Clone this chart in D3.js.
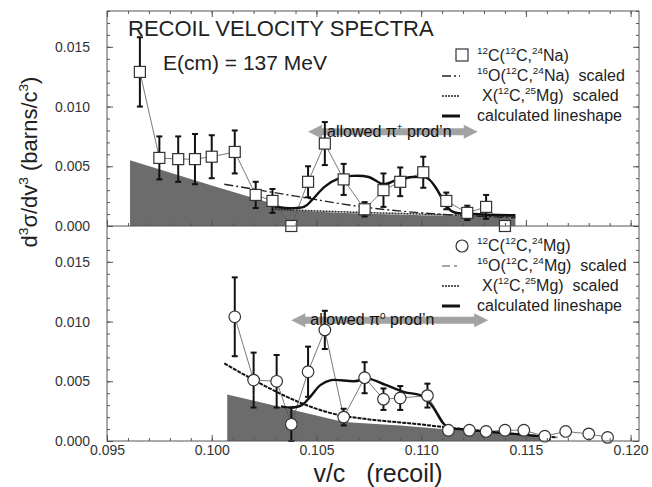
<!DOCTYPE html>
<html>
<head>
<meta charset="utf-8">
<script src="https://cdn.jsdelivr.net/npm/d3@7"></script>
<style>
  body { margin: 0; background: #fff; }
  svg { display: block; font-family: "Liberation Sans", Arial, sans-serif; }
</style>
</head>
<body>
<svg></svg>
<script>
// top panel: 12C(12C,24Na) data points
let naV = [0.09657, 0.0975, 0.0984, 0.0992, 0.1000, 0.1011, 0.1021, 0.1029, 0.1038, 0.1046,
           0.1054, 0.1063, 0.1073, 0.1082, 0.1090, 0.1101, 0.1112, 0.1122, 0.1131, 0.1140];
let naY = [0.0129, 0.0057, 0.0056, 0.0056, 0.0058, 0.0062, 0.0026, 0.0021, 0.0000, 0.0037,
           0.0069, 0.0039, 0.0014, 0.0030, 0.0037, 0.0045, 0.0021, 0.0011, 0.0016, 0.0000];
let naErr = [0.0029, 0.0018, 0.0019, 0.0021, 0.0018, 0.0018, 0.0011, 0.0010, 0, 0.0013,
             0.0018, 0.0013, 0.0006, 0.0014, 0.0012, 0.0013, 0.0007, 0.0006, 0.0010, 0];

// top panel curves
let grayNaV = [0.0961, 0.1000, 0.1040, 0.1060, 0.1100, 0.1145];
let grayNaY = [0.0055, 0.0034, 0.0013, 0.0011, 0.0009, 0.0008];
let oNaV = [0.1006, 0.1040, 0.1072, 0.1100, 0.1145];
let oNaY = [0.0035, 0.0025, 0.0016, 0.0011, 0.0007];
let xNaV = [0.1030, 0.1060, 0.1100, 0.1145];
let xNaY = [0.0014, 0.0012, 0.0010, 0.0008];
let lsNaV = [0.1030, 0.1044, 0.1048, 0.1054, 0.1061, 0.1067, 0.1075, 0.1082, 0.1089, 0.1096,
             0.1103, 0.1107, 0.1111, 0.1115, 0.1125, 0.1145];
let lsNaY = [0.0016, 0.0016, 0.0022, 0.0033, 0.0040, 0.0042, 0.0041, 0.0035, 0.0039, 0.0041,
             0.0040, 0.0032, 0.0020, 0.0012, 0.0010, 0.0009];

// bottom panel: 12C(12C,24Mg) data points
let mgV = [0.1011, 0.1020, 0.1031, 0.1038, 0.1046, 0.1054, 0.1063, 0.1073, 0.1082, 0.1090,
           0.1103, 0.1113, 0.1123, 0.1131, 0.1140, 0.1149, 0.1159, 0.1169, 0.1180, 0.1189];
let mgY = [0.0104, 0.0051, 0.0050, 0.0014, 0.0058, 0.0093, 0.0020, 0.0053, 0.0035, 0.0036,
           0.0038, 0.0009, 0.0009, 0.0008, 0.0009, 0.0009, 0.0004, 0.0008, 0.0006, 0.0003];
let mgErr = [0.0033, 0.0023, 0.0022, 0.0014, 0.0021, 0.0016, 0.0007, 0.0013, 0.0009, 0.0010,
             0.0010, 0, 0, 0, 0, 0, 0, 0, 0, 0];

// bottom panel curves
let grayMgV = [0.10074, 0.1063, 0.1090, 0.1110, 0.1130, 0.1150, 0.1162];
let grayMgY = [0.0039, 0.0016, 0.0013, 0.0010, 0.0007, 0.0004, 0.0002];
let oMgV = [0.1006, 0.1063, 0.1071, 0.1099, 0.1125, 0.1150, 0.1165];
let oMgY = [0.0065, 0.0021, 0.0019, 0.0014, 0.0009, 0.0005, 0.0003];
let lsMgV = [0.1033, 0.1038, 0.1043, 0.1047, 0.1052, 0.1057, 0.1068, 0.1075, 0.1083, 0.1092,
             0.1100, 0.1105, 0.1110, 0.1113, 0.1118, 0.1130, 0.1150, 0.1162];
let lsMgY = [0.0029, 0.0028, 0.0030, 0.0037, 0.0047, 0.0051, 0.0050, 0.0052, 0.0047, 0.0041,
             0.0038, 0.0030, 0.0016, 0.0011, 0.0010, 0.0008, 0.0005, 0.0003];

// axis ticks
let xMajor = [0.095, 0.100, 0.105, 0.110, 0.115, 0.120];
let xMinor = d3.range(0, 26).map(i => 0.095 + i * 0.001);
let yMajor = [0, 0.005, 0.010, 0.015];
let yMinor = d3.range(0, 19).map(i => i * 0.001);

// allowed pion production arrows [from, to, height]
let arrowNa = [0.1046, 0.1127, 0.0079];
let arrowMg = [0.1038, 0.1132, 0.0101];

let width = 652;
let height = 487;
let padLeft = 107, padRight = 639, padTop = 11, padMid = 226, padBottom = 441;
let font = '"Liberation Sans", Arial, sans-serif';

let svg = d3.select("svg").attr('width', width).attr('height', height);

let xScale = d3.scaleLinear().domain([0.095, 0.1204]).range([padLeft, padRight]);
let yTop = d3.scaleLinear().domain([0, 0.018]).range([padMid, padTop]);
let yBot = d3.scaleLinear().domain([0, 0.018]).range([padBottom, padMid]);

// text with superscripts
let rich = (t, parts, fs) => {
    let up = false;
    parts.forEach(([s, sup]) => {
        let ts = t.append('tspan').text(s);
        if (sup && !up) { ts.attr('dy', -fs * 0.42); up = true; }
        else if (!sup && up) { ts.attr('dy', fs * 0.42); up = false; }
        if (sup) ts.attr('font-size', fs * 0.62);
    });
};

let zip = (a, b) => a.map((v, i) => [v, b[i]]);

let drawPanel = (y, p) => {
    let g = svg.append('g');

    // shaded background
    g.append('path')
        .datum(zip(p.grayV, p.grayY))
        .attr('fill', '#6c6c6c')
        .attr('d', d3.area().x(d => xScale(d[0])).y0(y(0)).y1(d => y(d[1])));

    // arrow
    let [a0, a1, ah] = p.arrow;
    let xa = xScale(a0), xb = xScale(a1), ya = y(ah);
    g.append('path')
        .attr('fill', '#a3a3a3')
        .attr('d', `M${xa},${ya} L${xa + 14},${ya - 7} L${xa + 14},${ya - 3.5} L${xb - 14},${ya - 3.5}
                    L${xb - 14},${ya - 7} L${xb},${ya} L${xb - 14},${ya + 7} L${xb - 14},${ya + 3.5}
                    L${xa + 14},${ya + 3.5} L${xa + 14},${ya + 7} Z`);
    let at = g.append('text')
        .attr('x', xa + 19).attr('y', ya + 5)
        .attr('font-size', 16).attr('fill', '#111')
        .style('white-space', 'pre');
    rich(at, [['allowed \u03c0', 0], [p.pion, 1], [' prod\u2019n', 0]], 16);

    // scaled reference curves
    g.append('path')
        .datum(zip(p.oV, p.oY))
        .attr('fill', 'none').attr('stroke', p.oColor).attr('stroke-width', p.oWidth)
        .attr('stroke-dasharray', p.oDash)
        .attr('d', d3.line().x(d => xScale(d[0])).y(d => y(d[1])).curve(d3.curveMonotoneX));
    if (p.xV) {
        g.append('path')
            .datum(zip(p.xV, p.xY))
            .attr('fill', 'none').attr('stroke', '#222').attr('stroke-width', 1.5)
            .attr('stroke-dasharray', '2,1')
            .attr('d', d3.line().x(d => xScale(d[0])).y(d => y(d[1])).curve(d3.curveMonotoneX));
    }

    // data connecting line
    let pts = zip(p.v, p.y);
    g.append('path')
        .datum(pts)
        .attr('fill', 'none').attr('stroke', '#555').attr('stroke-width', 0.8)
        .attr('d', d3.line().x(d => xScale(d[0])).y(d => y(d[1])));

    // calculated lineshape
    g.append('path')
        .datum(zip(p.lsV, p.lsY))
        .attr('fill', 'none').attr('stroke', '#111').attr('stroke-width', 2.4)
        .attr('d', d3.line().x(d => xScale(d[0])).y(d => y(d[1])).curve(d3.curveCatmullRom));

    // error bars
    let errs = p.v.map((v, i) => ({ v: v, y: p.y[i], e: p.err[i] })).filter(d => d.e > 0);
    let eb = g.selectAll('.eb').data(errs).enter().append('g')
        .attr('stroke', '#111').attr('stroke-width', 2);
    eb.append('line')
        .attr('x1', d => xScale(d.v)).attr('x2', d => xScale(d.v))
        .attr('y1', d => y(Math.max(0, d.y - d.e))).attr('y2', d => y(d.y + d.e));
    eb.append('line')
        .attr('x1', d => xScale(d.v) - 3).attr('x2', d => xScale(d.v) + 3)
        .attr('y1', d => y(d.y + d.e)).attr('y2', d => y(d.y + d.e));
    eb.append('line')
        .attr('x1', d => xScale(d.v) - 3).attr('x2', d => xScale(d.v) + 3)
        .attr('y1', d => y(Math.max(0, d.y - d.e))).attr('y2', d => y(Math.max(0, d.y - d.e)));

    // markers
    if (p.marker === 'square') {
        g.selectAll('.mk').data(pts).enter().append('rect')
            .attr('x', d => xScale(d[0]) - 5.5).attr('y', d => y(d[1]) - 5.5)
            .attr('width', 11).attr('height', 11)
            .attr('fill', '#fff').attr('stroke', '#333').attr('stroke-width', 1.2);
    } else {
        g.selectAll('.mk').data(pts).enter().append('circle')
            .attr('cx', d => xScale(d[0])).attr('cy', d => y(d[1])).attr('r', 5.8)
            .attr('fill', '#fff').attr('stroke', '#333').attr('stroke-width', 1.2);
    }

    // legend
    let lg = svg.append('g').attr('font-size', 16).attr('fill', '#222');
    let ly = p.legendY;
    if (p.marker === 'square') {
        lg.append('rect').attr('x', 456).attr('y', ly - 12).attr('width', 12).attr('height', 12)
            .attr('fill', '#fff').attr('stroke', '#333').attr('stroke-width', 1.2);
    } else {
        lg.append('circle').attr('cx', 462).attr('cy', ly - 5).attr('r', 6)
            .attr('fill', '#fff').attr('stroke', '#333').attr('stroke-width', 1.2);
    }
    let samples = [[p.legColor, 1.3, p.legDash], ['#222', 1.5, '2,1'], ['#111', 3, null]];
    samples.forEach((s, i) => {
        let yy = ly + 20 * (i + 1) - 5;
        lg.append('line').attr('x1', 442).attr('x2', 460).attr('y1', yy).attr('y2', yy)
            .attr('stroke', s[0]).attr('stroke-width', s[1]).attr('stroke-dasharray', s[2]);
    });
    p.legend.forEach((parts, i) => {
        let t = lg.append('text').attr('x', i === 2 ? 482 : 477).attr('y', ly + 20 * i)
            .style('white-space', 'pre');
        rich(t, parts, 16);
    });
};

drawPanel(yTop, {
    v: naV, y: naY, err: naErr, marker: 'square',
    grayV: grayNaV, grayY: grayNaY,
    oV: oNaV, oY: oNaY, oColor: '#222', oWidth: 1.4, oDash: '9,3,2,3',
    legColor: '#222', legDash: '9,3,2,3',
    xV: xNaV, xY: xNaY,
    lsV: lsNaV, lsY: lsNaY,
    arrow: arrowNa, pion: '+',
    legendY: 61,
    legend: [
        [['12', 1], ['C(', 0], ['12', 1], ['C,', 0], ['24', 1], ['Na)', 0]],
        [['16', 1], ['O(', 0], ['12', 1], ['C,', 0], ['24', 1], ['Na)  scaled', 0]],
        [['X(', 0], ['12', 1], ['C,', 0], ['25', 1], ['Mg)  scaled', 0]],
        [['calculated lineshape', 0]]
    ]
});

drawPanel(yBot, {
    v: mgV, y: mgY, err: mgErr, marker: 'circle',
    grayV: grayMgV, grayY: grayMgY,
    oV: oMgV, oY: oMgY, oColor: '#111', oWidth: 2, oDash: '4,1',
    legColor: '#888', legDash: '8,4,3,4',
    xV: null, xY: null,
    lsV: lsMgV, lsY: lsMgY,
    arrow: arrowMg, pion: '0',
    legendY: 251,
    legend: [
        [['12', 1], ['C(', 0], ['12', 1], ['C,', 0], ['24', 1], ['Mg)', 0]],
        [['16', 1], ['O(', 0], ['12', 1], ['C,', 0], ['24', 1], ['Mg)  scaled', 0]],
        [['X(', 0], ['12', 1], ['C,', 0], ['25', 1], ['Mg)  scaled', 0]],
        [['calculated lineshape', 0]]
    ]
});

// axes and ticks
let styleAxis = g => {
    g.select('.domain').remove();
    g.selectAll('line').attr('stroke', '#555');
    g.attr('font-family', font).attr('font-size', 14);
    g.selectAll('text').attr('fill', '#333');
};
let noLabel = '';

[yTop, yBot].forEach(y => {
    svg.append('g').attr('transform', 'translate(' + padLeft + ',0)')
        .call(d3.axisLeft(y).tickValues(yMajor).tickSize(-6).tickPadding(17).tickFormat(d3.format('.3f')))
        .call(styleAxis);
    svg.append('g').attr('transform', 'translate(' + padLeft + ',0)')
        .call(d3.axisLeft(y).tickValues(yMinor).tickSize(-3).tickFormat(() => noLabel))
        .call(styleAxis);
    svg.append('g').attr('transform', 'translate(' + padRight + ',0)')
        .call(d3.axisRight(y).tickValues(yMajor).tickSize(-6).tickFormat(() => noLabel))
        .call(styleAxis);
    svg.append('g').attr('transform', 'translate(' + padRight + ',0)')
        .call(d3.axisRight(y).tickValues(yMinor).tickSize(-3).tickFormat(() => noLabel))
        .call(styleAxis);
});

svg.append('g').attr('transform', 'translate(0,' + padBottom + ')')
    .call(d3.axisBottom(xScale).tickValues(xMajor).tickSize(-6).tickPadding(4).tickFormat(d3.format('.3f')))
    .call(styleAxis);
[[padBottom, 'b'], [padMid, 'b'], [padTop, 't']].forEach(([yy, side]) => {
    let ax = side === 'b' ? d3.axisBottom(xScale) : d3.axisTop(xScale);
    svg.append('g').attr('transform', 'translate(0,' + yy + ')')
        .call(ax.tickValues(xMinor).tickSize(-3).tickFormat(() => noLabel))
        .call(styleAxis);
    if (yy !== padBottom) {
        let ax2 = side === 'b' ? d3.axisBottom(xScale) : d3.axisTop(xScale);
        svg.append('g').attr('transform', 'translate(0,' + yy + ')')
            .call(ax2.tickValues(xMajor).tickSize(-6).tickFormat(() => noLabel))
            .call(styleAxis);
    }
});

// frame
svg.append('rect')
    .attr('x', padLeft).attr('y', padTop).attr('width', padRight - padLeft).attr('height', padBottom - padTop)
    .attr('fill', 'none').attr('stroke', '#555').attr('stroke-width', 1);
svg.append('line')
    .attr('x1', padLeft).attr('x2', padRight).attr('y1', padMid).attr('y2', padMid)
    .attr('stroke', '#555').attr('stroke-width', 1);

// titles
svg.append('text').attr('x', 128).attr('y', 36).attr('font-size', 22).attr('fill', '#222')
    .text('RECOIL VELOCITY SPECTRA');
svg.append('text').attr('x', 163).attr('y', 70).attr('font-size', 21).attr('fill', '#222')
    .text('E(cm) = 137 MeV');

svg.append('text').attr('x', 378).attr('y', 482).attr('font-size', 25).attr('fill', '#222')
    .attr('text-anchor', 'middle').style('white-space', 'pre')
    .text('v/c   (recoil)');

let yl = svg.append('text')
    .attr('transform', 'translate(37,162) rotate(-90)')
    .attr('text-anchor', 'middle').attr('font-size', 22).attr('fill', '#222');
rich(yl, [['d', 0], ['3', 1], ['\u03c3/dv', 0], ['3', 1], [' (barns/c', 0], ['3', 1], [')', 0]], 22);
</script>
</body>
</html>
